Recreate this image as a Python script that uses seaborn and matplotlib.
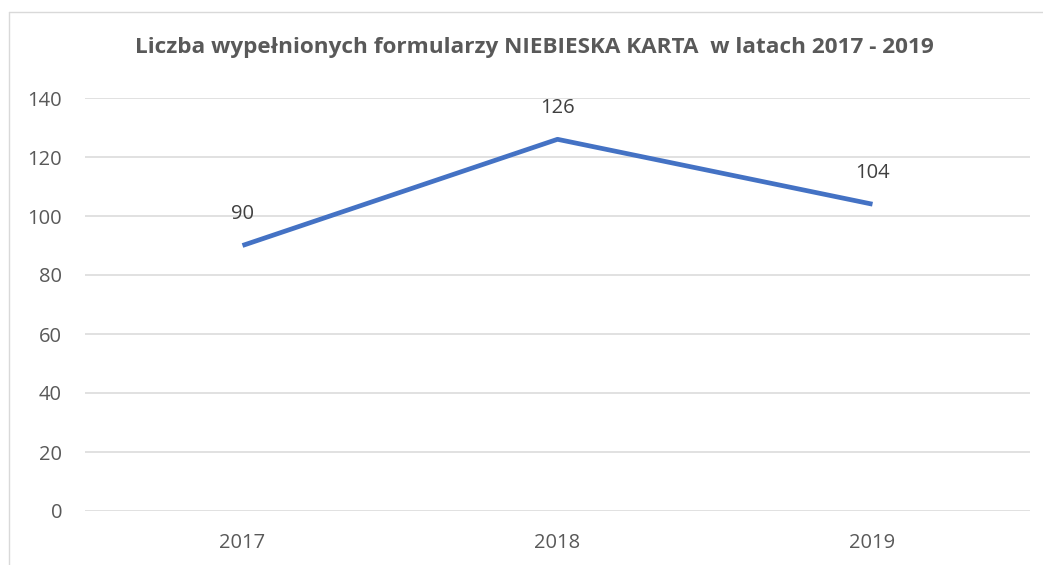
import matplotlib
matplotlib.use("Agg")
import matplotlib.pyplot as plt
import seaborn as sns
import pandas as pd
from matplotlib.lines import Line2D

years = ["2017", "2018", "2019"]
counts = [90, 126, 104]
yticks = [0, 20, 40, 60, 80, 100, 120, 140]
title = "Liczba wypełnionych formularzy NIEBIESKA KARTA  w latach 2017 - 2019"

sns.set_theme(style="white")
plt.rcParams['font.family'] = ['Open Sans', 'DejaVu Sans']

W, H = 1043, 565
fig = plt.figure(figsize=(W / 100, H / 100), dpi=100)
ax = fig.add_axes([85 / W, (H - 511) / H, (1030 - 85) / W, (511 - 98) / H])

df = pd.DataFrame({"year": years, "count": counts})
df["pos"] = range(len(years))
sns.lineplot(data=df, x="pos", y="count", ax=ax, color="#4472C4", linewidth=3.4,
             solid_capstyle="butt")

ax.set_xlim(-0.5, len(years) - 0.5)
ax.set_ylim(0, 140)
ax.set_xticks(range(len(years)))
ax.set_xticklabels(years)
ax.set_yticks(yticks)
ax.set_xlabel("")
ax.set_ylabel("")
for s in ax.spines.values():
    s.set_visible(False)
ax.grid(axis="y", color="#D9D9D9", linewidth=1.1)
ax.grid(axis="x", visible=False)
ax.tick_params(axis="both", length=0, labelsize=14.5, colors="#595959")
ax.tick_params(axis="y", pad=16.5)
ax.tick_params(axis="x", pad=16)

for i, v in enumerate(counts):
    ax.annotate(str(v), (i, v), xytext=(0, 22.5), textcoords="offset points",
                ha="center", va="center", fontsize=14.5, color="#404040")

fig.text(534 / W, 1 - 48 / H, title, ha="center", va="center",
         fontsize=16.2, fontweight="bold", color="#595959")

# chart border (left and top, as in the reference)
fig.add_artist(Line2D([8.5 / W, 8.5 / W], [0, 1 - 12 / H], transform=fig.transFigure,
                      color="#D9D9D9", linewidth=1))
fig.add_artist(Line2D([8.5 / W, 1], [1 - 12 / H, 1 - 12 / H], transform=fig.transFigure,
                      color="#D9D9D9", linewidth=1))

fig.savefig("out.png", dpi=100)
